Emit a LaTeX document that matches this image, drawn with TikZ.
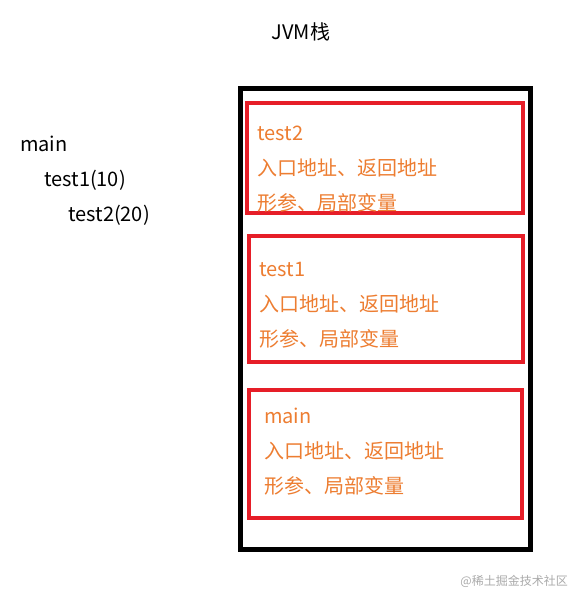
\documentclass[tikz,border=0pt]{standalone}
\usepackage{fontspec}
\setmainfont{Noto Sans CJK SC}
\usepackage{xcolor}
\definecolor{frameorange}{RGB}{237,125,49}
\definecolor{framered}{RGB}{230,30,40}
\definecolor{markgray}{RGB}{170,170,170}
\usetikzlibrary{positioning}

\begin{document}
\begin{tikzpicture}[x=1pt,y=-1pt,
        every node/.style={inner sep=0pt,font=\fontsize{20}{24}\selectfont},
        stack/.style={draw=black,line width=5pt,outer sep=0pt,anchor=north west},
        frame/.style={draw=framered,line width=4pt,outer sep=0pt,anchor=north west},
        info/.style={text=frameorange,anchor=base west},
        call/.style={text=black,anchor=base west}]
  \useasboundingbox[fill=white] (0,0) rectangle (572,593);
  % title
  \node[anchor=base] (title) at (301,40) {JVM栈};
  % call chain
  \node[call] (cmain) at (20,152) {main};
  \node[call] (ctest1) at (44,187) {test1(10)};
  \node[call] (ctest2) at (68,222) {test2(20)};
  % stack
  \node[stack,minimum width=290pt,minimum height=461pt] (jvm) at (240.5,88.5) {};
  \node[frame,minimum width=276pt,minimum height=110pt] (f2) at (247,103.5) {};
  \node[frame,minimum width=274pt,minimum height=125pt] (f1) at (249,236.5) {};
  \node[frame,minimum width=273pt,minimum height=128pt] (f0) at (249,389.5) {};
  % frame contents
  \node[info] (f2name) at (257,141) {test2};
  \node[info] (f2addr) at (257,176) {入口地址、返回地址};
  \node[info] (f2vars) at (257,211) {形参、局部变量};
  \node[info] (f1name) at (259,276) {test1};
  \node[info] (f1addr) at (259,311) {入口地址、返回地址};
  \node[info] (f1vars) at (259,346) {形参、局部变量};
  \node[info] (f0name) at (264,423) {main};
  \node[info] (f0addr) at (264,458) {入口地址、返回地址};
  \node[info] (f0vars) at (264,493) {形参、局部变量};
  % watermark
  \node[anchor=base east,text=markgray,font=\fontsize{12}{14}\selectfont] (mark) at (568,585) {@稀土掘金技术社区};
\end{tikzpicture}
\end{document}
